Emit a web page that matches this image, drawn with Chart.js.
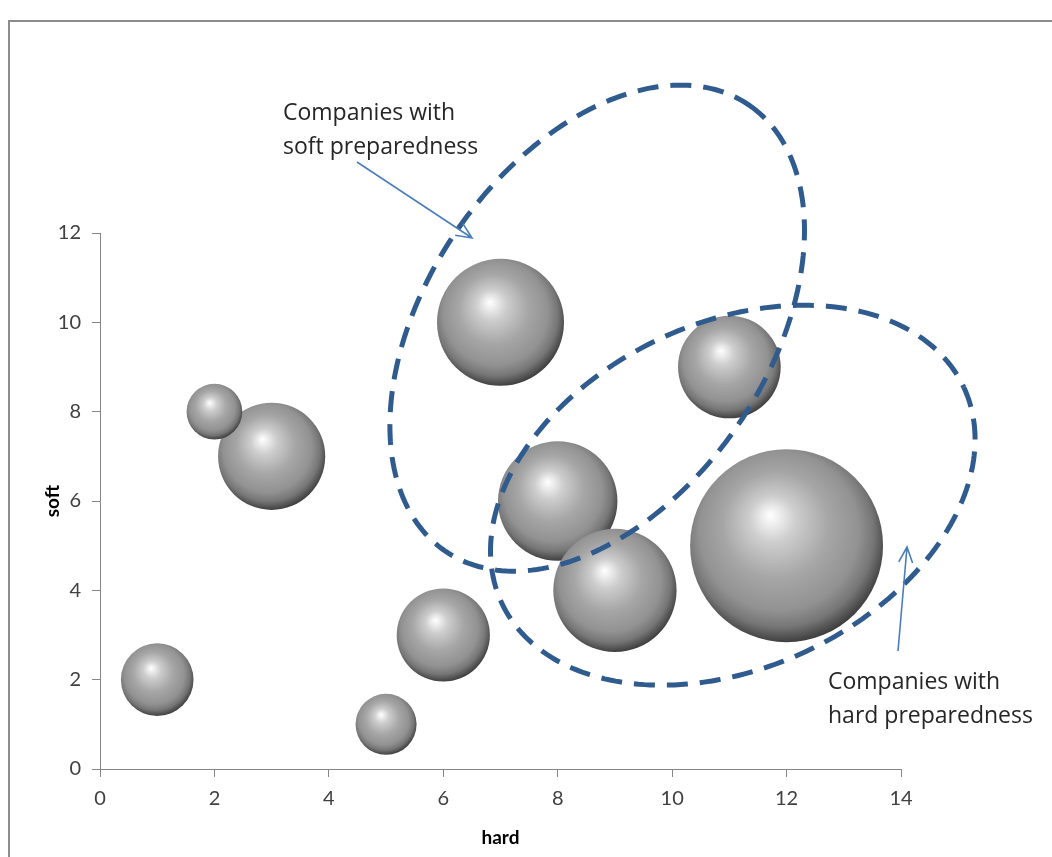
<!DOCTYPE html>
<html>
<head>
<meta charset="utf-8">
<script src="https://cdn.jsdelivr.net/npm/chart.js@4.4.0/dist/chart.umd.min.js"></script>
<style>
  html, body { margin: 0; padding: 0; background: #fff; overflow: hidden; }
  #wrap { position: relative; width: 1052px; height: 857px; overflow: hidden; }
  #frame { position: absolute; left: 8px; top: 20px; width: 1200px; height: 1000px;
           border-left: 2px solid #8c8c8c; border-top: 2px solid #8c8c8c; }
  canvas { position: absolute; left: 0; top: 0; }
</style>
</head>
<body>
<div id="wrap">
  <div id="frame"></div>
  <canvas id="chart" width="1052" height="866"></canvas>
</div>
<script>
// Companies: hard preparedness (x), soft preparedness (y), bubble size
const hard       = [1,   3,   2,   5,   6,   7,   8,   9,   11,  12];
const soft       = [2,   7,   8,   1,   3,   10,  6,   4,   9,   5];
const bubbleSize = [1.7, 3.7, 1.0, 1.2, 2.8, 5.2, 4.6, 4.9, 3.4, 12];

const xTicks = [0, 2, 4, 6, 8, 10, 12, 14];
const yTicks = [0, 2, 4, 6, 8, 10, 12];

const xTitle = 'hard';
const yTitle = 'soft';

// Group outlines (dashed ellipses) in data units: centre, and the two semi-axis vectors
const groupOutlines = [
  { cx: 8.69,  cy: 9.87, ux: 2.647, uy: 5.0,   vx: 2.474, vy: -2.145 },
  { cx: 11.06, cy: 6.13, ux: 4.037, uy: 2.418, vx: 1.279, vy: -3.499 }
];

const calloutLines = [
  ['Companies with', 'soft preparedness'],
  ['Companies with', 'hard preparedness']
];

const FONT = 'Lato, "Open Sans", sans-serif';
const CALLOUT_FONT = '"Open Sans", Lato, sans-serif';
const maxSize = Math.max(...bubbleSize);

// Bubble area is proportional to size; the largest bubble's radius is ~9.2% of the chart width
function bubbleRadius(chart, i) {
  return 0.0917 * chart.width * Math.sqrt(bubbleSize[i] / maxSize);
}

function sphereFill(ctx) {
  const chart = ctx.chart;
  if (!chart.chartArea || ctx.type !== 'data' || !chart.scales.x) return '#a0a0a0';
  const i = ctx.dataIndex;
  const cx = chart.scales.x.getPixelForValue(hard[i]);
  const cy = chart.scales.y.getPixelForValue(soft[i]);
  const r = bubbleRadius(chart, i);
  const g = chart.ctx.createRadialGradient(cx - 0.17 * r, cy - 0.32 * r, 0,
                                           cx - 0.05 * r, cy - 0.1 * r, r * 1.1);
  g.addColorStop(0.00, '#ffffff');
  g.addColorStop(0.07, '#f0f0f0');
  g.addColorStop(0.22, '#cdcdcd');
  g.addColorStop(0.50, '#a6a6a6');
  g.addColorStop(0.75, '#929292');
  g.addColorStop(0.88, '#767676');
  g.addColorStop(1.00, '#404040');
  return g;
}

// Dashed group outlines, arrows and callout text
const overlayPlugin = {
  id: 'overlay',
  afterDatasetsDraw(chart) {
    const c = chart.ctx;
    const xs = chart.scales.x, ys = chart.scales.y;
    c.save();
    c.strokeStyle = '#2f5b8e';
    c.lineWidth = 5;
    c.setLineDash([21, 12]);
    groupOutlines.forEach(e => {
      c.beginPath();
      const n = 240;
      for (let k = 0; k <= n; k++) {
        const t = Math.PI * 2 * k / n;
        const dx = e.cx + e.ux * Math.cos(t) + e.vx * Math.sin(t);
        const dy = e.cy + e.uy * Math.cos(t) + e.vy * Math.sin(t);
        const px = xs.getPixelForValue(dx), py = ys.getPixelForValue(dy);
        if (k === 0) c.moveTo(px, py); else c.lineTo(px, py);
      }
      c.stroke();
    });
    c.restore();

    // arrows
    c.save();
    c.strokeStyle = '#4a7ebb';
    c.lineWidth = 1.6;
    const arrows = [
      { from: [357, 162], to: [472, 238] },
      { from: [898, 651], to: [907, 547] }
    ];
    arrows.forEach(a => {
      const [x0, y0] = a.from, [x1, y1] = a.to;
      const ang = Math.atan2(y1 - y0, x1 - x0);
      c.beginPath();
      c.moveTo(x0, y0); c.lineTo(x1, y1);
      const L = 17, spread = 0.42;
      c.moveTo(x1 - L * Math.cos(ang - spread), y1 - L * Math.sin(ang - spread));
      c.lineTo(x1, y1);
      c.lineTo(x1 - L * Math.cos(ang + spread), y1 - L * Math.sin(ang + spread));
      c.stroke();
    });
    c.restore();

    // callout text
    c.save();
    c.fillStyle = '#262626';
    c.font = '23px ' + CALLOUT_FONT;
    c.textBaseline = 'alphabetic';
    c.textAlign = 'left';
    const anchors = [[283, 120], [828, 689]];
    calloutLines.forEach((lines, j) => {
      lines.forEach((s, k) => c.fillText(s, anchors[j][0], anchors[j][1] + k * 34));
    });
    c.restore();
  }
};

const chart = new Chart(document.getElementById('chart'), {
  type: 'bubble',
  data: {
    datasets: [{
      data: hard.map((x, i) => ({ x: x, y: soft[i] })),
      radius: ctx => bubbleRadius(ctx.chart, ctx.dataIndex),
      backgroundColor: sphereFill,
      borderWidth: 0,
      clip: false
    }]
  },
  options: {
    responsive: false,
    animation: false,
    events: [],
    layout: { padding: { left: 0, right: 151, top: 233, bottom: 0 } },
    plugins: { legend: { display: false }, tooltip: { enabled: false } },
    scales: {
      x: {
        type: 'linear', min: 0, max: 14,
        afterBuildTicks: s => { s.ticks = xTicks.map(v => ({ value: v })); },
        afterFit: s => { s.height = 97; },
        grid: { drawOnChartArea: false, color: '#868686', tickLength: 8, tickColor: '#868686' },
        border: { color: '#868686', width: 1 },
        ticks: { color: '#404040', padding: 10, font: { family: FONT, size: 20 }, maxRotation: 0 },
        title: { display: true, text: xTitle, color: '#000000',
                 font: { family: FONT, size: 19, weight: 'bold', lineHeight: 1 }, padding: { top: 0, bottom: 18.5 } }
      },
      y: {
        type: 'linear', min: 0, max: 12,
        afterBuildTicks: s => { s.ticks = yTicks.map(v => ({ value: v })); },
        afterFit: s => { s.width = 100; },
        grid: { drawOnChartArea: false, color: '#868686', tickLength: 8, tickColor: '#868686' },
        border: { color: '#868686', width: 1 },
        ticks: { color: '#404040', padding: 11, font: { family: FONT, size: 20 } },
        title: { display: true, text: yTitle, color: '#000000',
                 font: { family: FONT, size: 19, weight: 'bold' }, padding: { top: 41, bottom: 0 } }
      }
    }
  },
  plugins: [overlayPlugin]
});
</script>
</body>
</html>
